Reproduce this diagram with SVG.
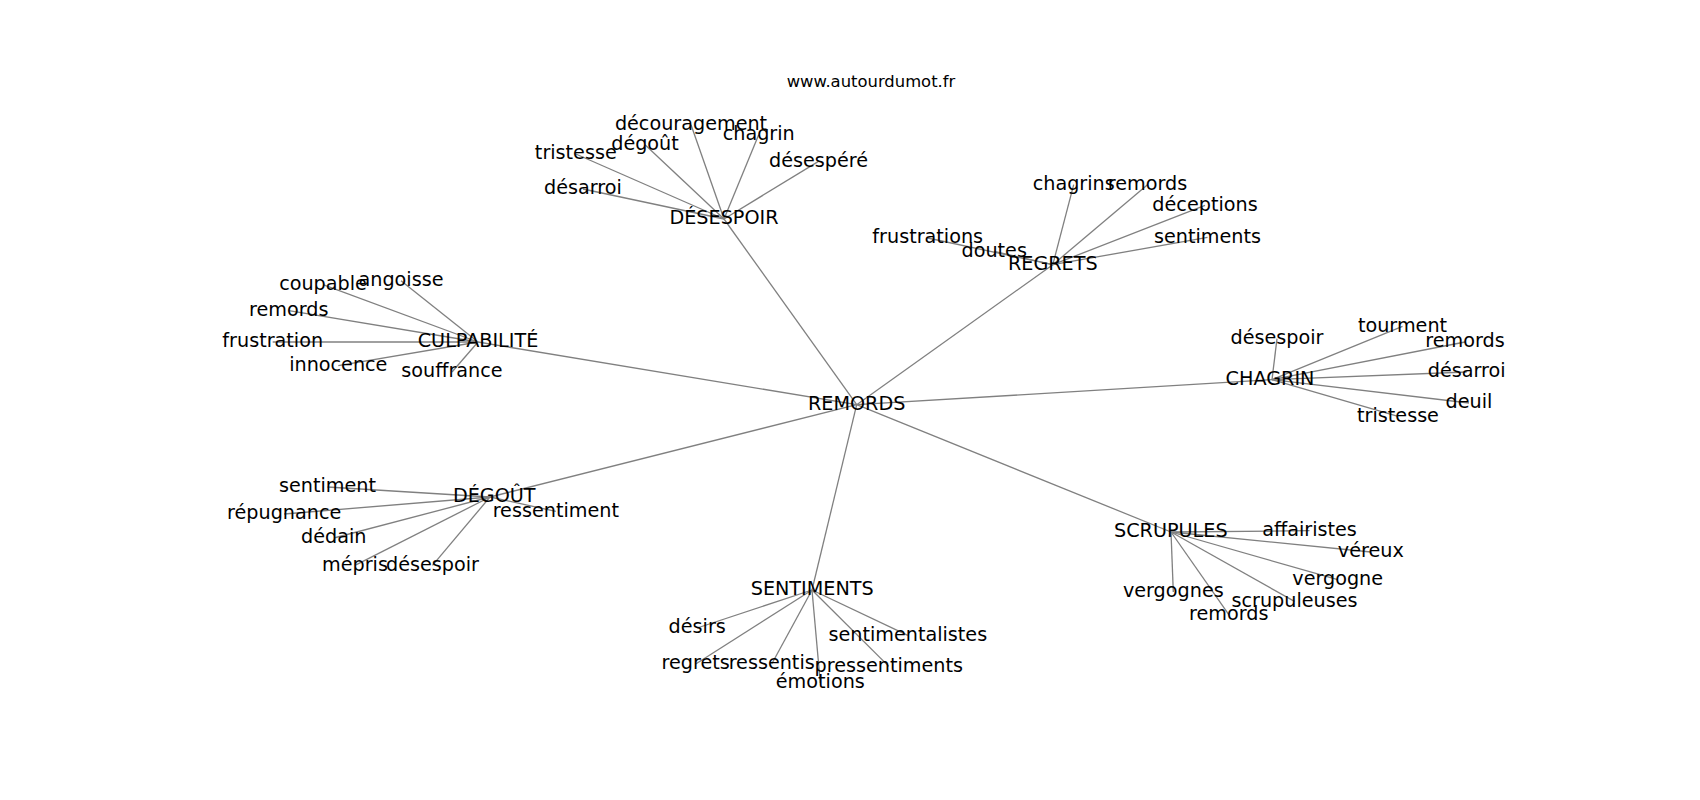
<svg xmlns="http://www.w3.org/2000/svg" width="1700" height="800" viewBox="0 0 1700 800">
<style>
.e line{stroke:#808080;stroke-width:1.3;fill:none}
text{font-family:"DejaVu Sans","Liberation Sans",sans-serif;font-size:19.2px;fill:#000;text-anchor:middle}
.title{font-size:16.4px}
</style>
<rect width="1700" height="800" fill="#fff"/>
<g id="edges" class="e">
<line x1="856.7" y1="404.7" x2="724" y2="219"/>
<line x1="856.7" y1="404.7" x2="1052.8" y2="264.7"/>
<line x1="856.7" y1="404.7" x2="478" y2="342"/>
<line x1="856.7" y1="404.7" x2="1272" y2="379.7"/>
<line x1="856.7" y1="404.7" x2="490" y2="497"/>
<line x1="856.7" y1="404.7" x2="812" y2="590"/>
<line x1="856.7" y1="404.7" x2="1171" y2="532"/>
<line x1="724" y1="219" x2="583" y2="189"/>
<line x1="724" y1="219" x2="575.8" y2="154"/>
<line x1="724" y1="219" x2="645" y2="144.7"/>
<line x1="724" y1="219" x2="691" y2="124.7"/>
<line x1="724" y1="219" x2="758.7" y2="134.7"/>
<line x1="724" y1="219" x2="818.5" y2="161.4"/>
<line x1="1052.8" y1="264.7" x2="1073.7" y2="184.7"/>
<line x1="1052.8" y1="264.7" x2="1147.5" y2="184.7"/>
<line x1="1052.8" y1="264.7" x2="1205" y2="205.4"/>
<line x1="1052.8" y1="264.7" x2="1207.5" y2="237.4"/>
<line x1="1052.8" y1="264.7" x2="927.7" y2="238"/>
<line x1="1052.8" y1="264.7" x2="994.2" y2="251.4"/>
<line x1="478" y1="342" x2="323" y2="284.7"/>
<line x1="478" y1="342" x2="401" y2="280.7"/>
<line x1="478" y1="342" x2="288.8" y2="310.7"/>
<line x1="478" y1="342" x2="272.7" y2="342"/>
<line x1="478" y1="342" x2="338.3" y2="365.7"/>
<line x1="478" y1="342" x2="452" y2="372"/>
<line x1="1272" y1="379.7" x2="1277" y2="338.7"/>
<line x1="1272" y1="379.7" x2="1402.5" y2="326.4"/>
<line x1="1272" y1="379.7" x2="1465" y2="342"/>
<line x1="1272" y1="379.7" x2="1466.7" y2="372"/>
<line x1="1272" y1="379.7" x2="1469" y2="403"/>
<line x1="1272" y1="379.7" x2="1398" y2="416.4"/>
<line x1="490" y1="497" x2="327.5" y2="487"/>
<line x1="490" y1="497" x2="284.2" y2="514"/>
<line x1="490" y1="497" x2="555.8" y2="511.4"/>
<line x1="490" y1="497" x2="333.8" y2="538"/>
<line x1="490" y1="497" x2="355" y2="565.4"/>
<line x1="490" y1="497" x2="432.5" y2="565.4"/>
<line x1="1171" y1="532" x2="1309.5" y2="530.7"/>
<line x1="1171" y1="532" x2="1370.8" y2="552"/>
<line x1="1171" y1="532" x2="1337.7" y2="579.7"/>
<line x1="1171" y1="532" x2="1173.3" y2="592"/>
<line x1="1171" y1="532" x2="1294.5" y2="601.4"/>
<line x1="1171" y1="532" x2="1228.8" y2="614.7"/>
<line x1="812" y1="590" x2="697.2" y2="628"/>
<line x1="812" y1="590" x2="907.8" y2="635.4"/>
<line x1="812" y1="590" x2="695.7" y2="664"/>
<line x1="812" y1="590" x2="771.7" y2="664"/>
<line x1="812" y1="590" x2="888.8" y2="666.4"/>
<line x1="812" y1="590" x2="820.3" y2="683"/>
</g>
<text class="title" x="871" y="87.3">www.autourdumot.fr</text>
<g id="n-remords"><text x="856.7" y="410">REMORDS</text></g>
<g id="n-desespoir">
<text x="724" y="224.3">DÉSESPOIR</text>
<text x="583" y="194.3">désarroi</text>
<text x="575.8" y="159.3">tristesse</text>
<text x="645" y="150">dégoût</text>
<text x="691" y="130">découragement</text>
<text x="758.7" y="140">chagrin</text>
<text x="818.5" y="166.7">désespéré</text>
</g>
<g id="n-regrets">
<text x="1052.8" y="270">REGRETS</text>
<text x="1073.7" y="190">chagrins</text>
<text x="1147.5" y="190">remords</text>
<text x="1205" y="210.7">déceptions</text>
<text x="1207.5" y="242.7">sentiments</text>
<text x="927.7" y="243.3">frustrations</text>
<text x="994.2" y="256.7">doutes</text>
</g>
<g id="n-culpabilite">
<text x="478" y="347.3">CULPABILITÉ</text>
<text x="323" y="290">coupable</text>
<text x="401" y="286">angoisse</text>
<text x="288.8" y="316">remords</text>
<text x="272.7" y="347.3">frustration</text>
<text x="338.3" y="371">innocence</text>
<text x="452" y="377.3">souffrance</text>
</g>
<g id="n-chagrin">
<text x="1270" y="385">CHAGRIN</text>
<text x="1277" y="344">désespoir</text>
<text x="1402.5" y="331.7">tourment</text>
<text x="1465" y="347.3">remords</text>
<text x="1466.7" y="377.3">désarroi</text>
<text x="1469" y="408.3">deuil</text>
<text x="1398" y="421.7">tristesse</text>
</g>
<g id="n-degout">
<text x="494.2" y="502.3">DÉGOÛT</text>
<text x="327.5" y="492.3">sentiment</text>
<text x="284.2" y="519.3">répugnance</text>
<text x="555.8" y="516.7">ressentiment</text>
<text x="333.8" y="543.3">dédain</text>
<text x="355" y="570.7">mépris</text>
<text x="432.5" y="570.7">désespoir</text>
</g>
<g id="n-scrupules">
<text x="1170.8" y="537.3">SCRUPULES</text>
<text x="1309.5" y="536">affairistes</text>
<text x="1370.8" y="557.3">véreux</text>
<text x="1337.7" y="585">vergogne</text>
<text x="1173.3" y="597.3">vergognes</text>
<text x="1294.5" y="606.7">scrupuleuses</text>
<text x="1228.8" y="620">remords</text>
</g>
<g id="n-sentiments">
<text x="812.2" y="595">SENTIMENTS</text>
<text x="697.2" y="633.3">désirs</text>
<text x="907.8" y="640.7">sentimentalistes</text>
<text x="695.7" y="669.3">regrets</text>
<text x="771.7" y="669.3">ressentis</text>
<text x="888.8" y="671.7">pressentiments</text>
<text x="820.3" y="688.3">émotions</text>
</g>
</svg>
